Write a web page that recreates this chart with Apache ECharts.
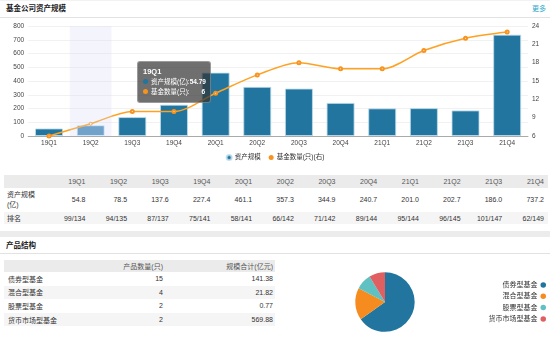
<!DOCTYPE html>
<html>
<head>
<meta charset="utf-8">
<script src="https://cdn.jsdelivr.net/npm/echarts@6/dist/echarts.min.js"></script>
<style>
  html, body { margin: 0; padding: 0; background: #fff; }
  body { width: 550px; height: 337px; position: relative; overflow: hidden;
         font-family: "Liberation Sans", "Noto Sans CJK SC", sans-serif; color: #333; }
  .bar-head { position: absolute; left: 0; top: 0; width: 550px; height: 16px;
              border-top: 1px solid #f2f2f2; border-bottom: 1px solid #e2e2e2; }
  .bar-head .t { position: absolute; left: 6px; top: 3px; font-size: 7.5px; font-weight: bold; color: #222; line-height: 10px; }
  .bar-head .more { position: absolute; right: 4px; top: 3px; font-size: 7px; color: #2aa7c9; line-height: 10px; }
  #trend { position: absolute; left: 0; top: 17px; width: 550px; height: 152px; }
  table { border-collapse: collapse; table-layout: fixed; position: absolute; }
  td, th { padding: 0 4px 0 3px; font-weight: normal; white-space: nowrap; overflow: hidden; }
  #quarterTable { left: 4px; top: 175px; width: 544px; font-size: 7px; }
  #quarterTable th { background: #ebebeb; color: #555; text-align: right; height: 13px; }
  #quarterTable td { text-align: right; color: #333; }
  #quarterTable td.lbl, #quarterTable th.lbl { text-align: left; }
  #quarterTable tr.r1 td { height: 24px; line-height: 10px; }
  #quarterTable tr.r2 td { height: 12px; background: #f5f5f5; }
  .sep { position: absolute; left: 0; top: 231px; width: 550px; height: 6px; background: #ececec; }
  .sec-head { position: absolute; left: 0; top: 238px; width: 550px; height: 15px; border-bottom: 1px solid #e2e2e2; }
  .sec-head .t { position: absolute; left: 6px; top: 3px; font-size: 7.5px; font-weight: bold; color: #222; line-height: 10px; }
  #productTable { left: 4px; top: 260px; width: 271px; font-size: 7px; }
  #productTable th { background: #ebebeb; color: #555; text-align: right; height: 12px; }
  #productTable td { height: 13.6px; text-align: right; color: #333; padding-right: 2px; }
  #productTable th { padding-right: 2px; }
  #productTable td.lbl { text-align: left; padding-left: 4px; }
  #productTable tr.even td { background: #f5f5f5; }
  #structure { position: absolute; left: 275px; top: 253px; width: 275px; height: 84px; }
</style>
</head>
<body>
<div class="bar-head"><span class="t">基金公司资产规模</span><span class="more">更多</span></div>
<div id="trend"></div>
<table id="quarterTable"></table>
<div class="sep"></div>
<div class="sec-head"><span class="t">产品结构</span></div>
<table id="productTable"></table>
<div id="structure"></div>

<script>
// Quarterly company figures
const quarters = ['19Q1', '19Q2', '19Q3', '19Q4', '20Q1', '20Q2', '20Q3', '20Q4', '21Q1', '21Q2', '21Q3', '21Q4'];
const assetScale = [54.79, 78.5, 137.6, 227.4, 461.1, 357.3, 344.9, 240.7, 201.0, 202.7, 186.0, 737.2];
const fundCount = [6, 8, 10, 10, 13, 16, 18, 17, 17, 20, 22, 23];
const rankText = ['99/134', '94/135', '87/137', '75/141', '58/141', '66/142', '71/142', '89/144', '95/144', '96/145', '101/147', '62/149'];

// Product structure
const productTypes = ['债券型基金', '混合型基金', '股票型基金', '货币市场型基金'];
const productCount = [15, 4, 2, 2];
const productScale = [141.38, 21.82, 0.77, 569.88];

const BLUE = '#21759f';
const ORANGE = '#f7931e';
const FONT = '"Liberation Sans", "Noto Sans CJK SC", sans-serif';

// ---- quarterly table ----
(function () {
  const t = document.getElementById('quarterTable');
  let html = '<colgroup><col style="width:43.7px">' + quarters.map(() => '<col style="width:41.69px">').join('') + '</colgroup>';
  html += '<tr><th class="lbl"></th>' + quarters.map(q => '<th>' + q + '</th>').join('') + '</tr>';
  html += '<tr class="r1"><td class="lbl">资产规模<br>(亿)</td>' + assetScale.map(v => '<td>' + v.toFixed(1) + '</td>').join('') + '</tr>';
  html += '<tr class="r2"><td class="lbl">排名</td>' + rankText.map(r => '<td>' + r + '</td>').join('') + '</tr>';
  t.innerHTML = html;
})();

// ---- product table ----
(function () {
  const t = document.getElementById('productTable');
  let html = '<colgroup><col style="width:70px"><col style="width:91px"><col style="width:110px"></colgroup>';
  html += '<tr><th></th><th>产品数量(只)</th><th>规模合计(亿元)</th></tr>';
  productTypes.forEach((name, i) => {
    html += '<tr class="' + (i % 2 ? 'even' : 'odd') + '"><td class="lbl">' + name + '</td><td>' +
      productCount[i] + '</td><td>' + productScale[i].toFixed(2) + '</td></tr>';
  });
  t.innerHTML = html;
})();

// ---- asset scale / fund count chart ----
const trend = echarts.init(document.getElementById('trend'));

function tipHtml(i) {
  const dot = c => '<span style="display:inline-block;width:5px;height:5px;border-radius:50%;background:' + c + ';margin-right:3px;vertical-align:0"></span>';
  return '<div style="font-family:' + FONT.replace(/"/g, "'") + ';width:62px">' +
    '<div style="font-weight:bold;font-size:7.5px;line-height:11px">' + quarters[i] + '</div>' +
    '<div style="display:flex;justify-content:space-between;line-height:10px;font-size:6.5px"><span>' + dot(BLUE) + '资产规模(亿):</span><b>' + assetScale[i] + '</b></div>' +
    '<div style="display:flex;justify-content:space-between;line-height:10px;font-size:6.5px"><span>' + dot(ORANGE) + '基金数量(只):</span><b>' + fundCount[i] + '</b></div>' +
    '</div>';
}

trend.setOption({
  animation: false,
  textStyle: { fontFamily: FONT },
  grid: { left: 28.2, right: 22, top: 9, bottom: 33 },
  legend: {
    bottom: 3,
    left: 'center',
    icon: 'circle',
    itemWidth: 5,
    itemHeight: 5,
    itemGap: 8,
    textStyle: { fontSize: 6.5, color: '#333', padding: [0, 0, 0, -2] },
    data: ['资产规模', '基金数量(只)(右)']
  },
  tooltip: {
    trigger: 'axis',
    alwaysShowContent: true,
    transitionDuration: 0,
    position: [137, 44],
    axisPointer: { type: 'shadow', shadowStyle: { color: 'rgba(215,220,245,0.28)' } },
    backgroundColor: 'rgba(50,50,50,0.7)',
    borderColor: 'rgba(255,255,255,0.3)',
    borderWidth: 1,
    borderRadius: 3,
    padding: [4, 5, 5, 5],
    textStyle: { color: '#fff', fontSize: 7 },
    extraCssText: 'box-shadow:none;',
    // the box stays pinned on the first quarter
    formatter: () => tipHtml(0)
  },
  xAxis: {
    type: 'category',
    data: quarters,
    axisLine: { lineStyle: { color: '#aaa' } },
    axisTick: { length: 3, lineStyle: { color: '#aaa' } },
    axisLabel: { fontSize: 6.5, color: '#444', margin: 4 }
  },
  yAxis: [
    {
      type: 'value', min: 0, max: 800, interval: 100,
      axisLine: { show: false }, axisTick: { show: false },
      axisLabel: { fontSize: 6.5, color: '#444', margin: 4 },
      splitLine: { lineStyle: { color: '#f1f1f1' } }
    },
    {
      type: 'value', min: 6, max: 24, interval: 3,
      axisLine: { show: false }, axisTick: { show: false },
      axisLabel: { fontSize: 6.5, color: '#444', margin: 4 },
      splitLine: { show: false }
    }
  ],
  series: [
    {
      name: '资产规模',
      type: 'bar',
      data: assetScale,
      barWidth: 28,
      itemStyle: { color: BLUE, borderColor: 'rgba(190,220,235,0.8)', borderWidth: 1 },
      emphasis: { itemStyle: { color: '#4a8cba' } }
    },
    {
      name: '基金数量(只)(右)',
      type: 'line',
      yAxisIndex: 1,
      data: fundCount,
      smooth: 0.3,
      symbol: 'emptyCircle',
      symbolSize: 3,
      lineStyle: { color: ORANGE, width: 1.5 },
      itemStyle: { color: ORANGE, borderWidth: 1 },
      emphasis: { scale: false, focus: 'none', lineStyle: { width: 1.5 }, itemStyle: { borderWidth: 1 } }
    }
  ]
});
trend.dispatchAction({ type: 'showTip', seriesIndex: 0, dataIndex: 1 });
trend.dispatchAction({ type: 'highlight', seriesIndex: 0, dataIndex: 1 });

// ---- product structure pie ----
const structure = echarts.init(document.getElementById('structure'));
structure.setOption({
  animation: false,
  textStyle: { fontFamily: FONT },
  color: [BLUE, '#f68b1f', '#5fc1c1', '#e05f60'],
  legend: {
    orient: 'vertical',
    right: 4,
    top: 28,
    padding: 0,
    align: 'right',
    icon: 'circle',
    itemWidth: 5.5,
    itemHeight: 5.5,
    itemGap: 3.3,
    textStyle: { fontSize: 7, lineHeight: 8, color: '#333', width: 54, align: 'right', padding: [0, -2, 0, 0] },
    data: productTypes
  },
  series: [{
    type: 'pie',
    center: [110, 49],
    radius: 29.7,
    startAngle: 90,
    label: { show: false },
    labelLine: { show: false },
    data: productTypes.map((name, i) => ({ name, value: productCount[i] }))
  }]
});
</script>
</body>
</html>
